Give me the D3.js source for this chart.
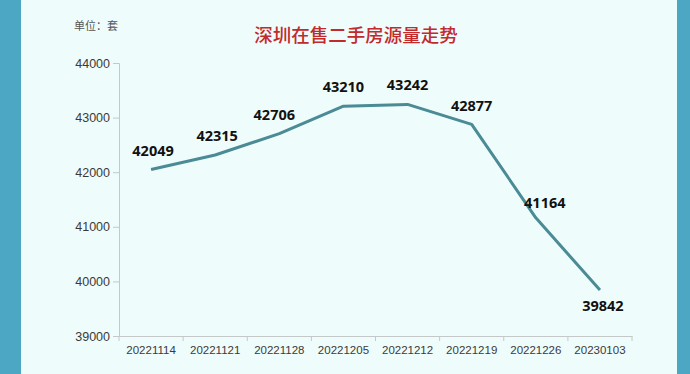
<!DOCTYPE html>
<html>
<head>
<meta charset="utf-8">
<script src="https://cdn.jsdelivr.net/npm/d3@7"></script>
<style>
  body { margin: 0; background: #4ba7c3; }
  svg { display: block; }
</style>
</head>
<body>
<svg id="chart" width="690" height="374"></svg>
<script>
// data
const dates = ["20221114", "20221121", "20221128", "20221205", "20221212", "20221219", "20221226", "20230103"];
const listings = [42049, 42315, 42706, 43210, 43242, 42877, 41164, 39842];
const yTicks = [39000, 40000, 41000, 42000, 43000, 44000];

var width = 690, height = 374;
var margin = {left: 119, right: 58, top: 63, bottom: 38};

var svg = d3.select("#chart");

// light panel between the blue side bars
svg.append("rect")
    .attr("x", 21).attr("y", 0)
    .attr("width", 656).attr("height", height)
    .attr("fill", "#effcfc");

var x = d3.scaleBand()
    .domain(dates)
    .range([margin.left, width - margin.right]);

var y = d3.scaleLinear()
    .domain([39000, 44000])
    .range([height - margin.bottom, margin.top]);

//y axis
var yAxis = svg.append("g")
    .attr("transform", "translate(" + margin.left + ",0)")
    .call(d3.axisLeft(y).tickValues(yTicks).tickSize(6).tickPadding(3).tickFormat(d3.format("d")));

//x axis, ticks between categories
var xAxis = svg.append("g")
    .attr("transform", "translate(0," + (height - margin.bottom) + ")")
    .call(d3.axisBottom(x).tickSize(0).tickPadding(10));

xAxis.selectAll(".sep")
    .data(dates.concat(["end"]))
    .enter().append("line")
    .attr("class", "sep")
    .attr("x1", function(d, i) { return margin.left + i * x.step(); })
    .attr("x2", function(d, i) { return margin.left + i * x.step(); })
    .attr("y1", 0).attr("y2", 5)
    .attr("stroke", "#c4c8c8");

[yAxis, xAxis].forEach(function(a) {
    a.select(".domain").attr("stroke", "#c4c8c8");
    a.selectAll(".tick line").attr("stroke", "#c4c8c8");
    a.selectAll("text")
        .attr("fill", "#3a3a3a")
        .style("font-family", "'Liberation Sans', Arial, sans-serif");
});
yAxis.selectAll("text").style("font-size", "12.5px");
xAxis.selectAll("text").style("font-size", "11.5px");

var line = d3.line()
    .x(function(d, i) { return x(dates[i]) + x.bandwidth() / 2; })
    .y(function(d) { return y(d); });

svg.append("path")
    .datum(listings)
    .attr("d", line)
    .attr("fill", "none")
    .attr("stroke", "#4a8b95")
    .attr("stroke-width", 3)
    .attr("stroke-linejoin", "round");

//value labels, last two sit aside / below the line
var labelShift = [[2, -14], [2, -14], [-5, -14], [0, -14], [0, -14], [0, -13], [9, -10], [3, 21]];

svg.selectAll(".val")
    .data(listings)
    .enter().append("text")
    .attr("class", "val")
    .attr("x", function(d, i) { return x(dates[i]) + x.bandwidth() / 2 + labelShift[i][0]; })
    .attr("y", function(d, i) { return y(d) + labelShift[i][1]; })
    .attr("text-anchor", "middle")
    .style("font-family", "'Open Sans', sans-serif")
    .style("font-weight", "700")
    .style("font-size", "14.5px")
    .attr("fill", "#111")
    .text(function(d) { return d; });

//title and unit
svg.append("text")
    .attr("x", 356).attr("y", 42)
    .attr("text-anchor", "middle")
    .style("font-family", "'Noto Sans CJK SC', sans-serif")
    .style("font-weight", "500")
    .style("font-size", "18.5px")
    .attr("fill", "#c22a2c")
    .text("深圳在售二手房源量走势");

svg.append("text")
    .attr("x", 74).attr("y", 30)
    .style("font-family", "'Noto Sans CJK SC', serif")
    .style("font-size", "11px")
    .attr("fill", "#555")
    .text("单位：套");
</script>
</body>
</html>
